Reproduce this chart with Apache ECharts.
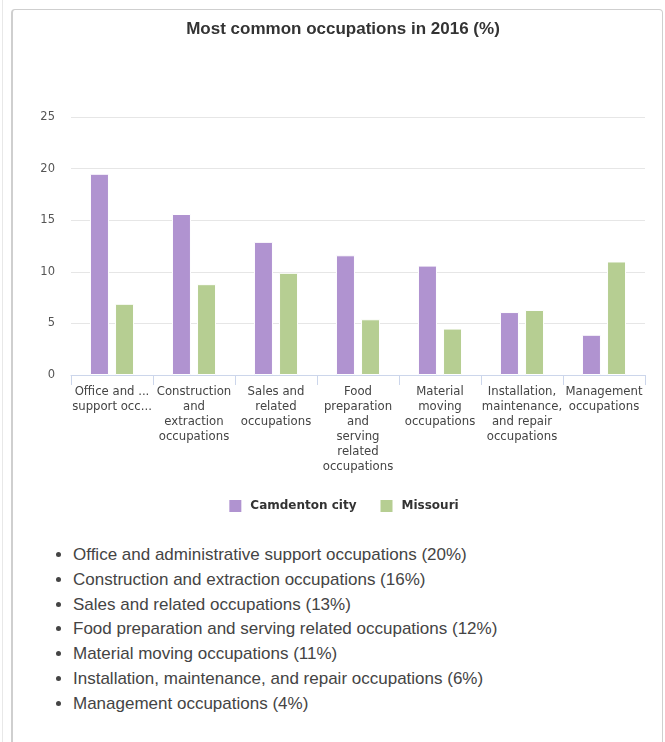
<!DOCTYPE html>
<html>
<head>
<meta charset="utf-8">
<script src="https://cdn.jsdelivr.net/npm/echarts@6/dist/echarts.min.js"></script>
<style>
  html, body { margin: 0; padding: 0; background: #fff; width: 665px; height: 742px; overflow: hidden; }
  #edge { position: absolute; left: 2px; top: 0; width: 1px; height: 742px; background: #e8e8e8; }
  #box { position: absolute; left: 11px; top: 9px; width: 652px; height: 760px; border: 1px solid #cfcfcf; border-left: 2px solid #cfcfcf; border-radius: 4px; box-sizing: border-box; }
  #chart { position: absolute; left: 21px; top: 0; width: 644px; height: 530px; }
  #list { position: absolute; left: 0; top: 543px; margin: 0; padding: 0 0 0 73px; font-family: "Liberation Sans", Arial, sans-serif; font-size: 17px; line-height: 24.8px; color: #444; list-style: disc; }
</style>
</head>
<body>
<div id="edge"></div>
<div id="box"></div>
<div id="chart"></div>
<ul id="list"></ul>
<script>
const categories = [
  "Office and administrative support occupations",
  "Construction and extraction occupations",
  "Sales and related occupations",
  "Food preparation and serving related occupations",
  "Material moving occupations",
  "Installation, maintenance, and repair occupations",
  "Management occupations"
];
const tickLabels = [
  "Office and ...\nsupport occ...",
  "Construction\nand\nextraction\noccupations",
  "Sales and\nrelated\noccupations",
  "Food\npreparation\nand\nserving\nrelated\noccupations",
  "Material\nmoving\noccupations",
  "Installation,\nmaintenance,\nand repair\noccupations",
  "Management\noccupations"
];
const camdenton = [19.5, 15.6, 12.9, 11.6, 10.6, 6.1, 3.9];
const missouri = [6.9, 8.8, 9.9, 5.4, 4.5, 6.3, 11.0];
const listPercents = [20, 16, 13, 12, 11, 6, 4];

const list = document.getElementById('list');
categories.forEach((c, i) => {
  const li = document.createElement('li');
  li.textContent = c + ' (' + listPercents[i] + '%)';
  list.appendChild(li);
});

const chart = echarts.init(document.getElementById('chart'), null, { renderer: 'canvas' });
chart.setOption({
  animation: false,
  title: {
    text: 'Most common occupations in 2016 (%)',
    left: 'center', top: 21, padding: 0,
    textStyle: { fontFamily: '"Liberation Sans", Arial, sans-serif', fontSize: 17, fontWeight: 'bold', color: '#333' }
  },
  legend: {
    top: 498, left: 'center', padding: 0,
    icon: 'rect', itemWidth: 14, itemHeight: 14, itemGap: 22,
    textStyle: { fontFamily: '"DejaVu Sans", Verdana, sans-serif', fontSize: 12, fontWeight: 'bold', color: '#333', padding: [0, 0, 0, 3] },
    data: ['Camdenton city', 'Missouri']
  },
  grid: { left: 50, right: 20, top: 117, bottom: 155, containLabel: false },
  xAxis: {
    type: 'category',
    data: tickLabels,
    axisLine: { lineStyle: { color: '#ccd6eb', width: 1 } },
    axisTick: { show: true, length: 10, alignWithLabel: false, lineStyle: { color: '#ccd6eb' } },
    axisLabel: { interval: 0, margin: 9, fontFamily: '"DejaVu Sans", Verdana, sans-serif', fontSize: 11.7, lineHeight: 15, color: '#444' }
  },
  yAxis: {
    type: 'value', min: 0, max: 25, interval: 5,
    axisLine: { show: false }, axisTick: { show: false },
    splitLine: { lineStyle: { color: '#e6e6e6', width: 1 } },
    axisLabel: { margin: 16, fontFamily: '"DejaVu Sans", Verdana, sans-serif', fontSize: 11.5, color: '#555' }
  },
  series: [
    { name: 'Camdenton city', type: 'bar', data: camdenton, barWidth: 19, barGap: '32%',
      itemStyle: { color: '#b093d0', borderColor: '#fff', borderWidth: 1 } },
    { name: 'Missouri', type: 'bar', data: missouri, barWidth: 19,
      itemStyle: { color: '#b6ce92', borderColor: '#fff', borderWidth: 1 } }
  ]
});
</script>
</body>
</html>
